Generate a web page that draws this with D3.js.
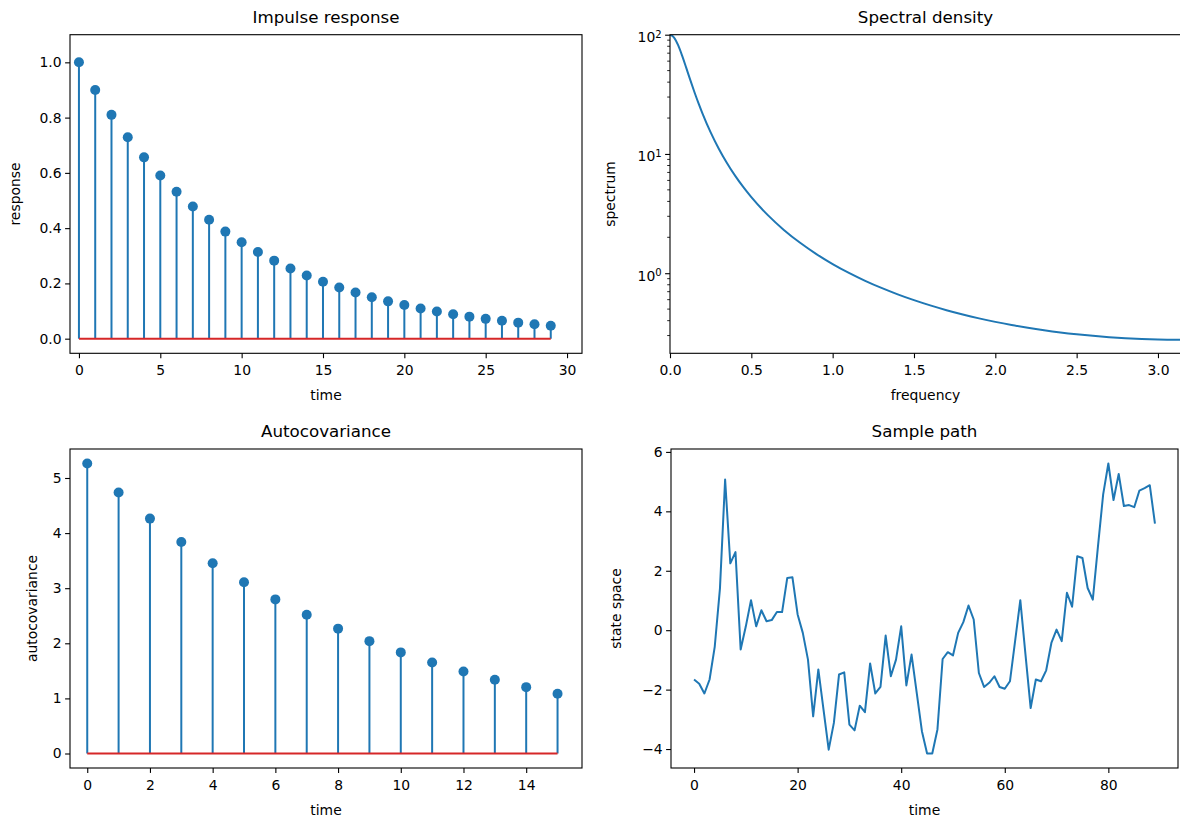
<!DOCTYPE html>
<html><head><meta charset="utf-8">
<script src="https://cdn.jsdelivr.net/npm/d3@7"></script>
<style>
html,body{margin:0;padding:0;background:#fff;}
svg text{font-family:"DejaVu Sans",sans-serif;fill:#000;}
</style></head>
<body><svg id="c" width="1180" height="820"></svg>
<script>
// ---- data ----
const impulseTime = d3.range(30);
const impulseValues = [1.0, 0.9, 0.81, 0.729, 0.6561, 0.5905, 0.5314, 0.4783, 0.4305, 0.3874,
  0.3487, 0.3138, 0.2824, 0.2542, 0.2288, 0.2059, 0.1853, 0.1668, 0.1501, 0.1351,
  0.1216, 0.1094, 0.0985, 0.0886, 0.0798, 0.0718, 0.0646, 0.0581, 0.0523, 0.0471];

const acovTime = d3.range(16);
const acovValues = [5.263, 4.737, 4.263, 3.837, 3.453, 3.108, 2.797, 2.517, 2.266, 2.039,
  1.835, 1.652, 1.487, 1.338, 1.204, 1.084];

const specFreq = [0, 0.025, 0.05, 0.075, 0.1, 0.125, 0.15, 0.175, 0.2, 0.25, 0.3, 0.35, 0.4, 0.45, 0.5,
  0.6, 0.7, 0.8, 0.9, 1.0, 1.1, 1.2, 1.3, 1.4, 1.5, 1.6, 1.7, 1.8, 1.9, 2.0, 2.1, 2.2, 2.3, 2.4,
  2.5, 2.6, 2.7, 2.8, 2.9, 3.0, 3.14159];
const specValues = [100, 94.67, 81.63, 66.40, 52.65, 41.59, 33.10, 26.67, 21.80, 15.16, 11.06, 8.394,
  6.575, 5.286, 4.341, 3.083, 2.308, 1.799, 1.447, 1.194, 1.0065, 0.8637, 0.7527, 0.6649, 0.5943,
  0.5369, 0.4897, 0.4507, 0.4181, 0.3908, 0.3678, 0.3485, 0.3323, 0.3187, 0.3075, 0.2983, 0.2909,
  0.2852, 0.2811, 0.2784, 0.2770];

const pathTime = d3.range(90);
const pathValues = [-1.66, -1.80, -2.13, -1.66, -0.55, 1.40, 5.07, 2.25, 2.63, -0.65,
  0.13, 1.01, 0.13, 0.67, 0.30, 0.34, 0.61, 0.61, 1.76, 1.78,
  0.53, -0.09, -0.99, -2.90, -1.32, -2.67, -4.02, -3.12, -1.49, -1.42,
  -3.18, -3.37, -2.54, -2.76, -1.12, -2.13, -1.91, -0.18, -1.55, -0.99,
  0.13, -1.86, -0.82, -2.11, -3.40, -4.15, -4.15, -3.34, -0.97, -0.74,
  -0.85, -0.09, 0.27, 0.83, 0.36, -1.44, -1.91, -1.77, -1.55, -1.91,
  -1.97, -1.72, -0.36, 1.01, -0.82, -2.62, -1.66, -1.72, -1.35, -0.43,
  0.02, -0.37, 1.26, 0.79, 2.49, 2.43, 1.42, 1.03, 2.83, 4.57,
  5.61, 4.38, 5.26, 4.18, 4.21, 4.14, 4.70, 4.78, 4.88, 3.59];

const impulseXTicks = [0, 5, 10, 15, 20, 25, 30];
const impulseYTicks = [0, 0.2, 0.4, 0.6, 0.8, 1.0];
const acovXTicks = [0, 2, 4, 6, 8, 10, 12, 14];
const acovYTicks = [0, 1, 2, 3, 4, 5];
const specXTicks = [0, 0.5, 1.0, 1.5, 2.0, 2.5, 3.0];
const specYTicks = [1, 10, 100];
const pathXTicks = [0, 20, 40, 60, 80];
const pathYTicks = [-4, -2, 0, 2, 4, 6];

// ---- styling ----
const BLUE = "#1f77b4", RED = "#d62728";
const TICK_FS = 13.9, LABEL_FS = 13.9, TITLE_FS = 16.7;
const svg = d3.select("#c");

function panel(o) {
  const g = svg.append("g");
  const x = o.x, y = o.y;
  const L = o.box.l, R = o.box.r, T = o.box.t, B = o.box.b;
  const clipId = "clip" + Math.random().toString(36).slice(2);
  svg.append("clipPath").attr("id", clipId).append("rect")
    .attr("x", L).attr("y", T).attr("width", R - L).attr("height", B - T);
  const plot = g.append("g").attr("clip-path", `url(#${clipId})`);
  o.draw(plot, x, y);

  const xa = g.append("g").attr("transform", `translate(0,${B})`)
    .call(d3.axisBottom(x).tickValues(o.xTicks).tickFormat(o.xFmt).tickSizeOuter(0).tickSize(4.9).tickPadding(3.5));
  const ya = g.append("g").attr("transform", `translate(${L},0)`)
    .call(d3.axisLeft(y).tickValues(o.yTicks).tickFormat(o.yFmt || null).tickSizeOuter(0).tickSize(4.9).tickPadding(3.5));
  [xa, ya].forEach(a => {
    a.select(".domain").remove();
    a.selectAll("line").attr("stroke", "#000").attr("stroke-width", 1.1);
    a.selectAll("text").attr("font-size", TICK_FS).attr("fill", "#000")
      .style("font-family", '"DejaVu Sans",sans-serif');
  });
  xa.selectAll("text").attr("dy", "0.95em");
  if (o.yMinor) {
    g.append("g").selectAll("line").data(o.yMinor).join("line")
      .attr("x1", L).attr("x2", L - 2.8).attr("y1", d => y(d)).attr("y2", d => y(d))
      .attr("stroke", "#000").attr("stroke-width", 0.85);
  }
  if (o.yLog) {
    ya.selectAll("text").text(null).each(function(d) {
      const t = d3.select(this);
      t.append("tspan").text("10");
      t.append("tspan").attr("dy", "-0.45em").attr("font-size", TICK_FS * 0.72).text(Math.round(Math.log10(d)));
    }).attr("dy", "0.5em");
  }
  g.append("rect").attr("x", L).attr("y", T).attr("width", R - L).attr("height", B - T)
    .attr("fill", "none").attr("stroke", "#000").attr("stroke-width", 1.1);
  g.append("text").attr("x", (L + R) / 2).attr("y", T - 12).attr("text-anchor", "middle")
    .attr("font-size", TITLE_FS).text(o.title);
  g.append("text").attr("x", (L + R) / 2).attr("y", B + 47).attr("text-anchor", "middle")
    .attr("font-size", LABEL_FS).text(o.xLabel);
  g.append("text").attr("transform", `translate(${o.yLabelX},${(T + B) / 2}) rotate(-90)`)
    .attr("text-anchor", "middle").attr("font-size", LABEL_FS).text(o.yLabel);
}

function stem(plot, x, y, xs, vs) {
  plot.append("g").selectAll("line").data(vs).join("line")
    .attr("x1", (d, i) => x(xs[i])).attr("x2", (d, i) => x(xs[i]))
    .attr("y1", y(0)).attr("y2", d => y(d))
    .attr("stroke", BLUE).attr("stroke-width", 2);
  plot.append("line").attr("x1", x(d3.min(xs))).attr("x2", x(d3.max(xs)))
    .attr("y1", y(0)).attr("y2", y(0)).attr("stroke", RED).attr("stroke-width", 2);
  plot.append("g").selectAll("circle").data(vs).join("circle")
    .attr("cx", (d, i) => x(xs[i])).attr("cy", d => y(d)).attr("r", 5).attr("fill", BLUE);
}

const topBox = { t: 34.7, b: 353.3 }, botBox = { t: 449, b: 768 };

(function () {
  const box = { l: 70, r: 582, ...topBox };
  panel({
    box,
    x: d3.scaleLinear().domain([-0.55, 30.92]).range([box.l, box.r]),
    y: d3.scaleLinear().domain([d3.min(impulseValues) - 0.1, d3.max(impulseValues) + 0.1]).range([box.b, box.t]),
    xTicks: impulseXTicks, xFmt: d3.format("d"),
    yTicks: impulseYTicks, yFmt: d3.format(".1f"),
    title: "Impulse response", xLabel: "time", yLabel: "response", yLabelX: 20,
    draw: (p, x, y) => stem(p, x, y, impulseTime, impulseValues)
  });
})();

(function () {
  const box = { l: 670, r: 1181, ...topBox };
  const minor = [];
  [0.1, 1, 10].forEach(dec => { for (let k = 2; k <= 9; k++) { const v = k * dec; if (v >= 0.21 && v <= 100) minor.push(v); } });
  panel({
    box,
    x: d3.scaleLinear().domain([0, Math.PI]).range([box.l, box.r]),
    y: d3.scaleLog().domain([0.213, 100]).range([box.b, box.t]),
    xTicks: specXTicks, xFmt: d3.format(".1f"),
    yTicks: specYTicks, yFmt: d => d, yLog: true, yMinor: minor,
    title: "Spectral density", xLabel: "frequency", yLabel: "spectrum", yLabelX: 615,
    draw: (p, x, y) => {
      p.append("path").datum(specValues)
        .attr("d", d3.line().x((d, i) => x(specFreq[i])).y(d => y(d)).curve(d3.curveMonotoneX))
        .attr("fill", "none").attr("stroke", BLUE).attr("stroke-width", 2);
    }
  });
})();

(function () {
  const box = { l: 70, r: 582, ...botBox };
  const ymax = d3.max(acovValues), pad = ymax * 0.05;
  panel({
    box,
    x: d3.scaleLinear().domain([-0.55, 15.78]).range([box.l, box.r]),
    y: d3.scaleLinear().domain([-pad, ymax + pad]).range([box.b, box.t]),
    xTicks: acovXTicks, xFmt: d3.format("d"),
    yTicks: acovYTicks, yFmt: d3.format("d"),
    title: "Autocovariance", xLabel: "time", yLabel: "autocovariance", yLabelX: 37,
    draw: (p, x, y) => stem(p, x, y, acovTime, acovValues)
  });
})();

(function () {
  const box = { l: 671, r: 1178, ...botBox };
  const ymin = d3.min(pathValues), ymax = d3.max(pathValues), pad = (ymax - ymin) * 0.05;
  const xpad = 89 * 0.05;
  panel({
    box,
    x: d3.scaleLinear().domain([-xpad, 89 + xpad]).range([box.l, box.r]),
    y: d3.scaleLinear().domain([ymin - pad, ymax + pad]).range([box.b, box.t]),
    xTicks: pathXTicks, xFmt: d3.format("d"),
    yTicks: pathYTicks, yFmt: d3.format("d"),
    title: "Sample path", xLabel: "time", yLabel: "state space", yLabelX: 621,
    draw: (p, x, y) => {
      p.append("path").datum(pathValues)
        .attr("d", d3.line().x((d, i) => x(pathTime[i])).y(d => y(d)))
        .attr("fill", "none").attr("stroke", BLUE).attr("stroke-width", 2).attr("stroke-linejoin", "round");
    }
  });
})();
</script></body></html>
